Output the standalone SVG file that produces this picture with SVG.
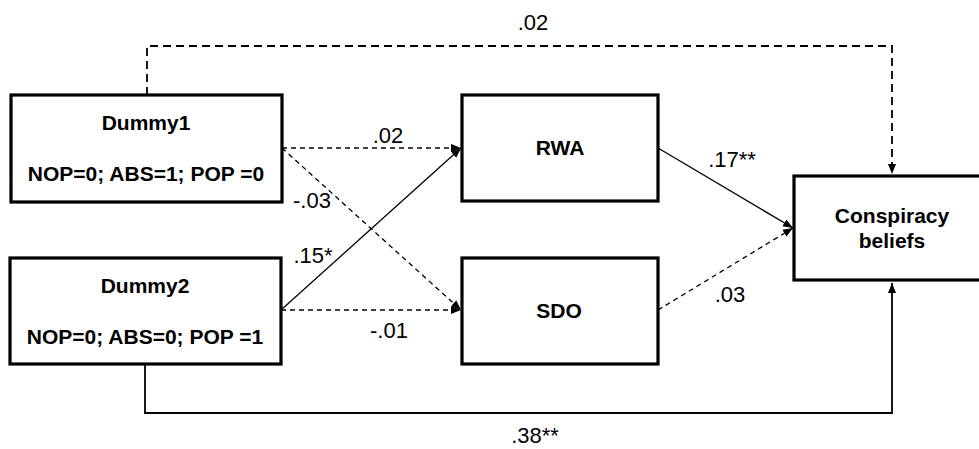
<svg xmlns="http://www.w3.org/2000/svg" width="979" height="449" viewBox="0 0 979 449">
<style>
.box{fill:#fff;stroke:#000;stroke-width:3.2}
.t{font-family:"Liberation Sans",Arial,sans-serif;font-size:21px;font-weight:bold;text-anchor:middle;fill:#000}
.l{font-family:"Liberation Sans",Arial,sans-serif;font-size:22px;text-anchor:middle;fill:#000}
.c{fill:none;stroke:#000}
.thin{stroke-width:1.3}
.dash{stroke-dasharray:5,4}
.big{stroke-width:1.8}
.bigdash{stroke-dasharray:8,5}
</style>
<defs>
<marker id="ah" markerUnits="userSpaceOnUse" markerWidth="10" markerHeight="10" viewBox="0 0 10 10" refX="10" refY="5" orient="auto">
<path d="M0,1 L10,5 L0,9 Z" fill="#000"/>
</marker>
</defs>
<rect width="979" height="449" fill="#fff"/>
<g id="connectors">
<path class="c big bigdash" d="M147,95 V46 H892 V174" marker-end="url(#ah)"/>
<path class="c big" d="M145,364 V413 H892 V283" marker-end="url(#ah)"/>
<path class="c thin dash" d="M282,148 H461" marker-end="url(#ah)"/>
<path class="c thin dash" d="M282,148 L461,310" marker-end="url(#ah)"/>
<path class="c thin dash" d="M281,310 H461" marker-end="url(#ah)"/>
<path class="c thin" d="M281,310 L461,148" marker-end="url(#ah)"/>
<path class="c thin" d="M658,148 L793,228" marker-end="url(#ah)"/>
<path class="c thin dash" d="M658,310 L793,228" marker-end="url(#ah)"/>
<text class="l" x="533" y="30">.02</text>
<text class="l" x="388" y="143">.02</text>
<text class="l" x="312" y="208">-.03</text>
<text class="l" x="313" y="263">.15*</text>
<text class="l" x="389" y="338">-.01</text>
<text class="l" x="732" y="167">.17**</text>
<text class="l" x="730" y="302">.03</text>
<text class="l" x="535" y="443">.38**</text>
</g>
<g id="dummy1">
<rect class="box" x="11" y="95" width="271" height="107"/>
<text class="t" x="146" y="130">Dummy1</text>
<text class="t" x="146" y="181">NOP=0; ABS=1; POP =0</text>
</g>
<g id="dummy2">
<rect class="box" x="10" y="258" width="271" height="106"/>
<text class="t" x="145" y="293">Dummy2</text>
<text class="t" x="145" y="344">NOP=0; ABS=0; POP =1</text>
</g>
<g id="rwa">
<rect class="box" x="462" y="95" width="196" height="106"/>
<text class="t" x="560" y="155">RWA</text>
</g>
<g id="sdo">
<rect class="box" x="462" y="258" width="196" height="106"/>
<text class="t" x="559" y="318">SDO</text>
</g>
<g id="conspiracy">
<rect class="box" x="794" y="176" width="200" height="104"/>
<text class="t" x="892" y="223">Conspiracy</text>
<text class="t" x="892" y="248">beliefs</text>
</g>
</svg>
